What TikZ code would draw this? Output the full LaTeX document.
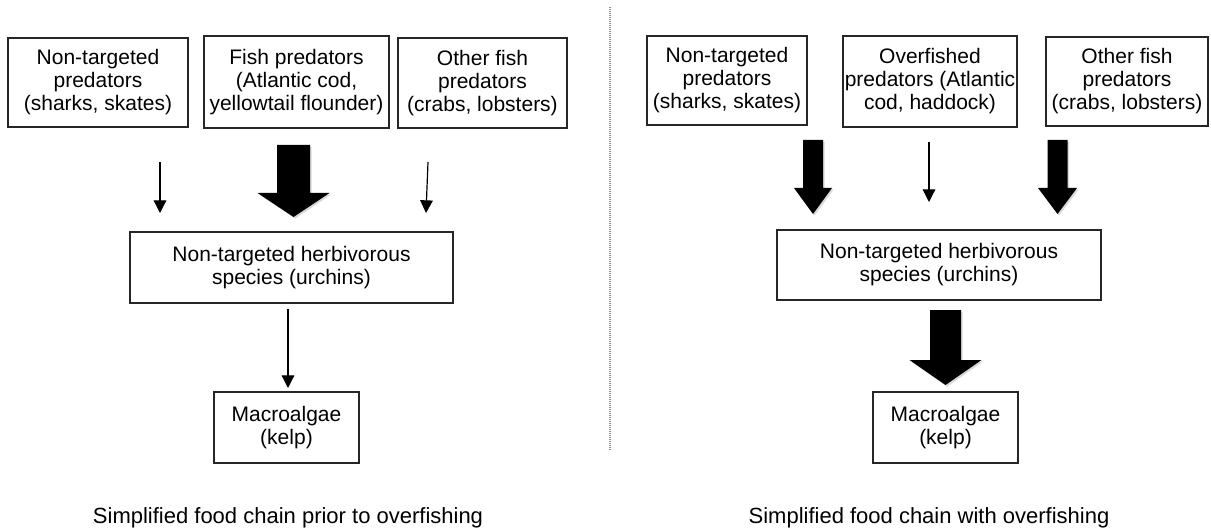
\documentclass[tikz,border=0pt]{standalone}
\usepackage{fontspec}
\setmainfont{Liberation Sans}
\usetikzlibrary{arrows.meta,calc,shadows}
\tikzset{
  chain box/.style={draw=black!85, line width=0.9pt, align=center, inner sep=0pt,
    font=\fontsize{15.75}{17.25}\selectfont},
  thin link/.style={black, line width=0.9pt, -{Triangle[width=9.5pt,length=9.5pt]}},
  fat link/.style={fill=black, drop shadow={shadow xshift=1.2pt, shadow yshift=-1.2pt, opacity=0.3}},
  caption/.style={font=\fontsize{16.5}{19}\selectfont},
  divider/.style={black!45, line width=0.9pt, dash pattern=on 0.75pt off 0.75pt},
}
% #1 top, #2 tip, #3 half shaft, #4 half head, #5 head length
\newcommand{\fatarrow}[5]{%
  \fill[fat link] (#1) ++(-#3,0) -- ++(2*#3,0) -- ($(#2)+(#3,-#5)$) -- ($(#2)+(#4,-#5)$)
    -- (#2) -- ($(#2)+(-#4,-#5)$) -- ($(#2)+(-#3,-#5)$) -- cycle;}

\begin{document}
\begin{tikzpicture}[x=0.75pt, y=-0.75pt]
  \useasboundingbox (0,0) rectangle (1211,531);

  % before overfishing
  \node[chain box, minimum width=135pt, minimum height=66.75pt] (nt1) at (98,82.5)
    {Non-targeted\\predators\\(sharks, skates)};
  \node[chain box, minimum width=138.75pt, minimum height=69pt] (fp1) at (296.5,82)
    {Fish predators\\(Atlantic cod,\\yellowtail flounder)};
  \node[chain box, minimum width=126.75pt, minimum height=67.5pt] (of1) at (482.5,83)
    {Other fish\\predators\\(crabs, lobsters)};
  \node[chain box, minimum width=242.25pt, minimum height=53.25pt] (hb1) at (291.5,267.5)
    {Non-targeted herbivorous\\species (urchins)};
  \node[chain box, minimum width=108.75pt, minimum height=53.25pt] (ma1) at (286.5,427.5)
    {Macroalgae\\(kelp)};

  \coordinate (nt1s) at (160,162);  \coordinate (nt1e) at (160,213);
  \coordinate (of1s) at (428,162);  \coordinate (of1e) at (426,213);
  \coordinate (hb1s) at (288,309);  \coordinate (hb1e) at (288,388);
  \coordinate (fp1s) at (293.5,145); \coordinate (fp1e) at (293.5,217);
  \draw[thin link] (nt1s) -- (nt1e);
  \draw[thin link] (of1s) -- (of1e);
  \draw[thin link] (hb1s) -- (hb1e);
  \fatarrow{fp1s}{fp1e}{16.5}{36}{24}

  \node[caption] (cap1) at (288,518) {Simplified food chain prior to overfishing};

  \draw[divider] (610,7) -- (610,450);

  % with overfishing
  \node[chain box, minimum width=120pt, minimum height=66.75pt] (nt2) at (727,80.5)
    {Non-targeted\\predators\\(sharks, skates)};
  \node[chain box, minimum width=130.5pt, minimum height=68.25pt] (fp2) at (930,81.5)
    {Overfished\\predators (Atlantic\\cod, haddock)};
  \node[chain box, minimum width=121.5pt, minimum height=66.75pt] (of2) at (1127,81.5)
    {Other fish\\predators\\(crabs, lobsters)};
  \node[chain box, minimum width=243pt, minimum height=52.5pt] (hb2) at (939,265)
    {Non-targeted herbivorous\\species (urchins)};
  \node[chain box, minimum width=108.75pt, minimum height=53.25pt] (ma2) at (945.5,427.5)
    {Macroalgae\\(kelp)};

  \coordinate (fp2s) at (929,142);  \coordinate (fp2e) at (929,202);
  \coordinate (nt2s) at (813,140);  \coordinate (nt2e) at (813,214);
  \coordinate (of2s) at (1057.5,140); \coordinate (of2e) at (1057.5,214);
  \coordinate (hb2s) at (945.5,310); \coordinate (hb2e) at (945.5,385);
  \draw[thin link] (fp2s) -- (fp2e);
  \fatarrow{nt2s}{nt2e}{10}{19}{26}
  \fatarrow{of2s}{of2e}{10}{19.5}{26}
  \fatarrow{hb2s}{hb2e}{15.5}{36}{25}

  \node[caption] (cap2) at (929,518) {Simplified food chain with overfishing};
\end{tikzpicture}
\end{document}
